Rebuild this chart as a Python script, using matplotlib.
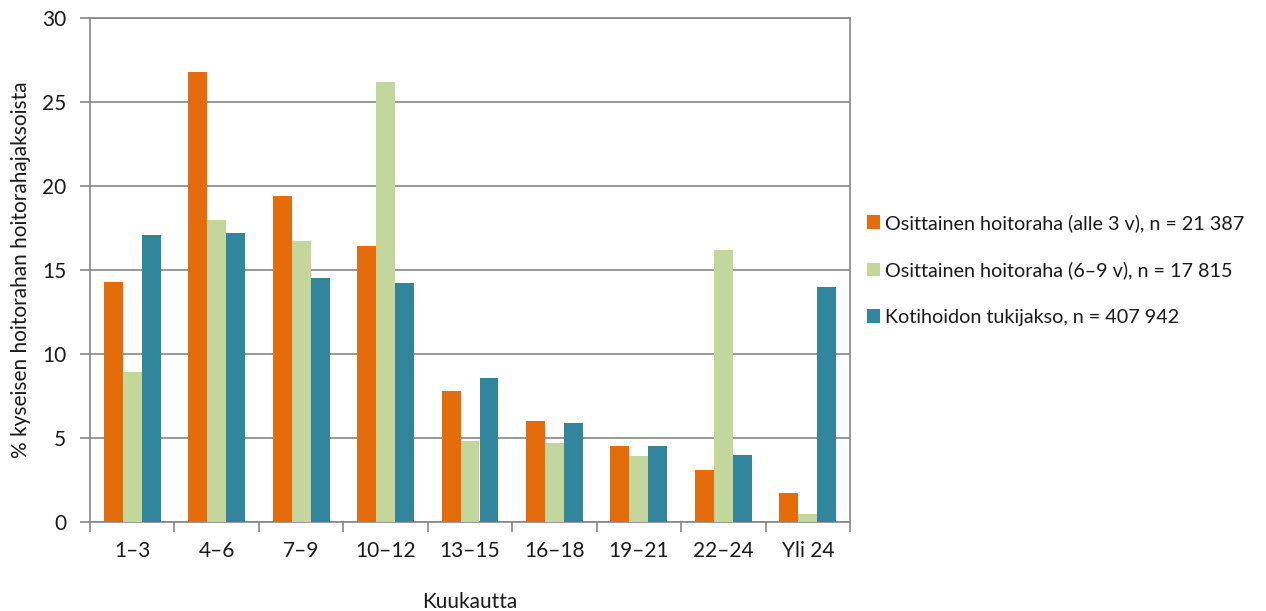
import matplotlib
matplotlib.use("Agg")
import matplotlib.pyplot as plt
import numpy as np

categories = ["1–3", "4–6", "7–9", "10–12", "13–15", "16–18", "19–21", "22–24", "Yli 24"]
series_names = [
    "Osittainen hoitoraha (alle 3 v), n = 21 387",
    "Osittainen hoitoraha (6–9 v), n = 17 815",
    "Kotihoidon tukijakso, n = 407 942",
]
partial_under3 = [14.3, 26.8, 19.4, 16.4, 7.8, 6.0, 4.5, 3.1, 1.7]
partial_6to9 = [8.9, 18.0, 16.7, 26.2, 4.8, 4.7, 3.9, 16.2, 0.5]
home_care = [17.1, 17.2, 14.5, 14.2, 8.6, 5.9, 4.5, 4.0, 14.0]
y_ticks = [0, 5, 10, 15, 20, 25, 30]

colors = ["#E46C0A", "#C3D69B", "#31859C"]
grid_color = "#868686"

plt.rcParams["font.family"] = ["Lato", "DejaVu Sans"]

fig = plt.figure(figsize=(12.66, 6.11), dpi=100)
ax = fig.add_axes([90 / 1266, 1 - 522 / 611, 760 / 1266, 504 / 611])

x = np.arange(len(categories))
w = 0.225
for i, (vals, name) in enumerate(zip([partial_under3, partial_6to9, home_care], series_names)):
    ax.bar(x + (i - 1) * w, vals, width=w, color=colors[i], label=name, zorder=3)

ax.set_xlim(-0.5, len(categories) - 0.5)
ax.set_ylim(0, 30)
ax.set_yticks(y_ticks)
ax.yaxis.grid(True, color=grid_color, linewidth=1.2, zorder=0)
ax.set_axisbelow(True)

# category boundaries carry the tick marks, labels sit at centers
ax.set_xticks(np.arange(-0.5, len(categories)), minor=False)
ax.set_xticklabels([])
ax.set_xticks(x, minor=True)
ax.set_xticklabels(categories, minor=True)
ax.tick_params(axis="x", which="major", length=7, color=grid_color, width=1.2)
ax.tick_params(axis="x", which="minor", length=0, pad=14, labelsize=15, labelcolor="#1a1a1a")
ax.tick_params(axis="y", length=7, color=grid_color, width=1.2, labelsize=15, pad=10, labelcolor="#1a1a1a")

for s in ["left", "right", "top", "bottom"]:
    ax.spines[s].set_color(grid_color)
    ax.spines[s].set_linewidth(1.2)

ax.set_ylabel("% kyseisen hoitorahan hoitorahajaksoista", fontsize=15, color="#1a1a1a", labelpad=8)
ax.set_xlabel("Kuukautta", fontsize=15, color="#1a1a1a", labelpad=22)

ax.legend(loc="center left", bbox_to_anchor=(1.022, 0.5), frameon=False, fontsize=14.2,
          borderaxespad=0, borderpad=0,
          handlelength=0.65, handleheight=0.65, handletextpad=0.3, labelspacing=1.5,
          labelcolor="#1a1a1a")

fig.savefig("out.png", dpi=100, facecolor="white")
